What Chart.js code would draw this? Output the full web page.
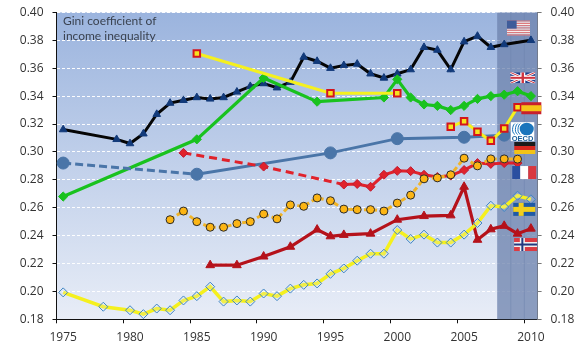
<!DOCTYPE html>
<html>
<head>
<meta charset="utf-8">
<style>
  html, body { margin: 0; padding: 0; background: #fff; }
  canvas { display: block; }
</style>
<script src="https://cdn.jsdelivr.net/npm/chart.js@4"></script>
</head>
<body>
<canvas id="giniChart" width="577" height="357"></canvas>
<script>
const years = [];
for (let y = 1975; y <= 2010; y++) years.push(String(y));
const yTicks = [0.18, 0.20, 0.22, 0.24, 0.26, 0.28, 0.30, 0.32, 0.34, 0.36, 0.38, 0.40];
const _ = null;

//            1975                     1980                     1985                     1990                     1995                     2000                     2005                     2010
const usa     = [.316, _, _, _, .309, .306, .313, .327, .335, .337, .339, .338, .339, .343, .347, .349, .346, .350, .368, .365, .360, .362, .363, .356, .353, .356, .359, .375, .373, .359, .379, .383, .375, .377, _, .380];
const uk      = [.268, _, _, _, _, _, _, _, _, _, .309, _, _, _, _, .353, _, _, _, .336, _, _, _, _, .339, .352, .339, .334, .333, .330, .333, .338, .340, .341, .3435, .340];
const spainA  = [_, _, _, _, _, _, _, _, _, _, .3705, _, _, _, _, _, _, _, _, _, .342, _, _, _, _, .342, _, _, _, _, _, _, _, _, _, _];
const spainB  = [_, _, _, _, _, _, _, _, _, _, _, _, _, _, _, _, _, _, _, _, _, _, _, _, _, _, _, _, _, .318, .322, .3145, .308, .3167, .332, _];
const oecd    = [.292, _, _, _, _, _, _, _, _, _, .284, _, _, _, _, _, _, _, _, _, .2993, _, _, _, _, .3095, _, _, _, _, .3105, _, _, .312, _, _];
const germany = [_, _, _, _, _, _, _, _, .2514, .2576, .250, .246, .246, .2486, .250, .2555, .252, .262, .261, .267, .265, .259, .2586, .2586, .2576, .2633, .269, .2807, .2814, .2836, .2955, .290, .295, .295, .2948, _];
const france  = [_, _, _, _, _, _, _, _, _, .2993, _, _, _, _, _, .2895, _, _, _, _, _, .2766, .277, .275, .2836, .2864, .2862, .2836, .282, .283, .287, .292, .2914, .292, .292, _];
const norway  = [_, _, _, _, _, _, _, _, _, _, _, .2188, _, .2188, _, .225, _, .232, _, .2443, .2395, .2405, _, .2414, _, .2514, _, .254, _, .2545, .275, .237, .2445, .247, .2414, .245];
const sweden  = [.1993, _, _, .189, _, .1865, .1837, .1877, .1865, .1935, .1966, .2034, .1927, .1935, .1927, .1985, .1966, .202, .2047, .2057, .2126, .2165, .222, .227, .227, .244, .2376, .2407, .235, .235, .2407, .249, .2614, .2605, .2686, .266];
const latest  = [_, _, _, _, _, _, _, _, _, _, _, _, _, _, _, _, _, _, _, _, _, _, _, _, _, _, _, _, _, _, _, _, _, .40, .40, .40];

// plot background, lightest at the bottom
const plotBackground = {
  id: 'plotBackground',
  beforeDraw(chart) {
    const { ctx, chartArea: a } = chart;
    const g = ctx.createLinearGradient(0, a.top, 0, a.bottom);
    g.addColorStop(0, '#9bb4de');
    g.addColorStop(1, '#e8edf7');
    ctx.save();
    ctx.fillStyle = g;
    ctx.fillRect(a.left, a.top, a.right - a.left, a.bottom - a.top);
    ctx.restore();
  }
};

// flags sit beside the end of each line, placed on the chart's own scales
function drawFlag(ctx, name, x, y, w, h) {
  const band = (cols) => cols.forEach((c, i) => {
    ctx.fillStyle = c;
    ctx.fillRect(x, y + h * i / cols.length, w, h / cols.length);
  });
  const stripes = (cols) => cols.forEach((c, i) => {
    ctx.fillStyle = c;
    ctx.fillRect(x + w * i / cols.length, y, w / cols.length, h);
  });
  const nordic = (bg, outer, inner) => {
    ctx.fillStyle = bg;
    ctx.fillRect(x, y, w, h);
    ctx.fillStyle = outer;
    ctx.fillRect(x, y + h / 2 - 2.5, w, 5);
    ctx.fillRect(x + w * 0.36 - 2.5, y, 5, h);
    if (inner) {
      ctx.fillStyle = inner;
      ctx.fillRect(x, y + h / 2 - 1, w, 2);
      ctx.fillRect(x + w * 0.36 - 1, y, 2, h);
    }
  };
  if (name === 'usa') {
    for (let i = 0; i < 13; i++) {
      ctx.fillStyle = i % 2 ? '#f6eeee' : '#e0787a';
      ctx.fillRect(x, y + h * i / 13, w, h / 13);
    }
    ctx.fillStyle = '#3f5c9a';
    ctx.fillRect(x, y, w * 0.42, h * 0.54);
  } else if (name === 'uk') {
    ctx.save();
    ctx.beginPath();
    ctx.rect(x, y, w, h);
    ctx.clip();
    ctx.fillStyle = '#1f3f8c';
    ctx.fillRect(x, y, w, h);
    ctx.strokeStyle = '#fff';
    ctx.lineWidth = 2.6;
    ctx.beginPath();
    ctx.moveTo(x, y); ctx.lineTo(x + w, y + h);
    ctx.moveTo(x + w, y); ctx.lineTo(x, y + h);
    ctx.stroke();
    ctx.strokeStyle = '#d0343f';
    ctx.lineWidth = 1;
    ctx.stroke();
    ctx.fillStyle = '#fff';
    ctx.fillRect(x, y + h / 2 - 2, w, 4);
    ctx.fillRect(x + w / 2 - 2.5, y, 5, h);
    ctx.fillStyle = '#d0343f';
    ctx.fillRect(x, y + h / 2 - 1, w, 2);
    ctx.fillRect(x + w / 2 - 1.2, y, 2.4, h);
    ctx.restore();
  } else if (name === 'spain') {
    ctx.fillStyle = '#c8202c';
    ctx.fillRect(x, y, w, h);
    ctx.fillStyle = '#f5c518';
    ctx.fillRect(x, y + h * 0.25, w, h * 0.5);
  } else if (name === 'oecd') {
    ctx.fillStyle = '#fff';
    ctx.fillRect(x, y, w, h);
    ctx.fillStyle = '#1b75bc';
    ctx.beginPath();
    ctx.ellipse(x + w * 0.68, y + h * 0.36, w * 0.3, h * 0.33, 0, 0, Math.PI * 2);
    ctx.fill();
    ctx.strokeStyle = '#1b75bc';
    ctx.lineWidth = 1;
    [0.06, 0.18, 0.29].forEach((f) => {
      ctx.beginPath();
      ctx.ellipse(x + w * (f + 0.16), y + h * 0.36, w * 0.14, h * 0.3, 0, Math.PI * 0.6, Math.PI * 1.4);
      ctx.stroke();
    });
    ctx.fillStyle = '#1b5f9a';
    ctx.font = 'bold 7.5px "Liberation Sans"';
    ctx.textAlign = 'center';
    ctx.textBaseline = 'alphabetic';
    ctx.fillText('OECD', x + w / 2, y + h - 0.5);
  } else if (name === 'germany') {
    band(['#1a1a1a', '#d7261e', '#f2c316']);
  } else if (name === 'france') {
    stripes(['#2a4fa0', '#ffffff', '#d9383f']);
  } else if (name === 'sweden') {
    nordic('#1f5aa6', '#f2cf1d');
  } else if (name === 'norway') {
    nordic('#db3b42', '#f1f1f1', '#22397f');
  }
}

const flags = {
  id: 'flags',
  afterDatasetsDraw(chart) {
    const { ctx, scales } = chart;
    const list = [
      ['usa', 34.07, .3888, 23, 15],
      ['uk', 34.39, .3531, 25, 11],
      ['spain', 35.03, .3313, 20, 12],
      ['oecd', 34.37, .3145, 23.5, 19],
      ['germany', 34.54, .3028, 21, 12],
      ['france', 34.5, .2852, 24, 13],
      ['sweden', 34.5, .2588, 22, 13],
      ['norway', 34.6, .2336, 23, 13]
    ];
    ctx.save();
    list.forEach(([name, pos, val, w, h]) => {
      const cx = scales.x.getPixelForValue(pos);
      const cy = scales.y.getPixelForValue(val);
      drawFlag(ctx, name, cx - w / 2, cy - h / 2, w, h);
    });
    ctx.restore();
  }
};

const caption = {
  id: 'caption',
  afterDraw(chart) {
    const { ctx, chartArea: a } = chart;
    ctx.save();
    ctx.fillStyle = '#3a4250';
    ctx.font = '12px Lato';
    ctx.textAlign = 'left';
    ctx.textBaseline = 'middle';
    ctx.fillText('Gini coefficient of', a.left + 6.5, a.top + 9);
    ctx.fillText('income inequality', a.left + 6.5, a.top + 24);
    ctx.restore();
  }
};

function line(label, data, color, width, style, radius, bg, border, extra) {
  return Object.assign({
    type: 'line', label, data,
    borderColor: color, borderWidth: width,
    pointStyle: style, pointRadius: radius, pointHoverRadius: radius,
    pointBackgroundColor: bg, pointBorderColor: border, pointBorderWidth: 1,
    spanGaps: true, tension: 0, fill: false, order: 1
  }, extra || {});
}

const isFive = (i) => i % 5 === 0;
const axisFont = { family: '"Open Sans"', size: 12 };
// fixed axis widths, and drop the tick padding the scale adds above and below itself
const fixedWidth = (w) => (scale) => {
  scale.width = w;
  scale.paddingTop = 0;
  scale.paddingBottom = 0;
};

new Chart(document.getElementById('giniChart'), {
  type: 'line',
  data: {
    labels: years,
    datasets: [
      line('Germany', germany, '#f0b428', 3, 'circle', 4, '#fcb514', '#2a2a2a', {
        order: 1,
        segment: { borderDash: () => [5, 3] }
      }),
      line('Sweden', sweden, '#f5f01e', 3.5, 'rectRot', 4.5, 'rgba(220,232,245,0.2)', '#3f86c4', { order: 2 }),
      line('France', france, '#e0222b', 3, 'rectRot', 4.5, '#e0222b', '#c01c34', {
        order: 3,
        segment: { borderDash: (ctx) => (ctx.p0DataIndex < 21 ? [8, 5] : undefined) }
      }),
      line('Spain', spainA, '#f5f01e', 3, 'rect', 4.6, '#f7e21e', '#d4141c', { order: 4, pointBorderWidth: 2 }),
      line('Spain', spainB, '#f5f01e', 3, 'rect', 4.6, '#f7e21e', '#d4141c', { order: 4, pointBorderWidth: 2 }),
      line('Norway', norway, '#b5121b', 3.2, 'triangle', 5, '#b5121b', '#b5121b', { order: 5 }),
      line('OECD', oecd, '#4a75a8', 3, 'circle', 6, '#4a75a8', '#4a75a8', {
        order: 6,
        segment: { borderDash: (ctx) => (ctx.p0DataIndex < 10 ? [8, 4] : undefined) }
      }),
      line('UK', uk, '#19c21e', 3.2, 'rectRot', 4.6, '#19c21e', '#19c21e', { order: 7 }),
      line('USA', usa, '#050505', 3, 'triangle', 4.4, '#123a7a', '#123a7a', { order: 8 }),
      {
        type: 'bar', label: 'latest', data: latest,
        backgroundColor: 'rgba(108,130,172,0.75)',
        barPercentage: 1, categoryPercentage: 1, borderWidth: 0, order: 20
      }
    ]
  },
  options: {
    responsive: false,
    animation: false,
    layout: { padding: { top: 12.4, bottom: 0, left: 0, right: 0 } },
    plugins: { legend: { display: false }, tooltip: { enabled: false } },
    scales: {
      x: {
        type: 'category',
        offset: true,
        afterFit: (scale) => { scale.height = 37.7; scale.paddingLeft = 0; scale.paddingRight = 0; },
        border: { color: '#111', width: 1 },
        grid: {
          offset: true,
          drawOnChartArea: false,
          tickLength: 4,
          tickColor: (ctx) => (isFive(ctx.index) ? '#111' : 'transparent')
        },
        ticks: {
          autoSkip: false, maxRotation: 0, minRotation: 0, padding: 7,
          color: '#333', font: axisFont,
          callback(v, i) { return isFive(i) ? years[i] : ''; }
        }
      },
      y: {
        position: 'left',
        min: 0.18, max: 0.40,
        afterFit: fixedWidth(56.5),
        afterBuildTicks(scale) { scale.ticks = yTicks.map((value) => ({ value })); },
        border: { color: '#111', width: 1, dash: [3, 2] },
        grid: { color: 'rgba(255,255,255,0.95)', lineWidth: 1, tickColor: '#111', tickLength: 4 },
        ticks: { color: '#333', font: axisFont, padding: 9, callback: (v) => v.toFixed(2) }
      },
      y2: {
        position: 'right',
        display: true,
        min: 0.18, max: 0.40,
        afterFit: fixedWidth(39.4),
        afterBuildTicks(scale) { scale.ticks = yTicks.map((value) => ({ value })); },
        border: { color: '#777', width: 1 },
        grid: { drawOnChartArea: false, tickColor: '#777', tickLength: 4 },
        ticks: { color: '#333', font: axisFont, padding: 9, callback: (v) => v.toFixed(2) }
      }
    }
  },
  plugins: [plotBackground, flags, caption]
});
</script>
</body>
</html>
